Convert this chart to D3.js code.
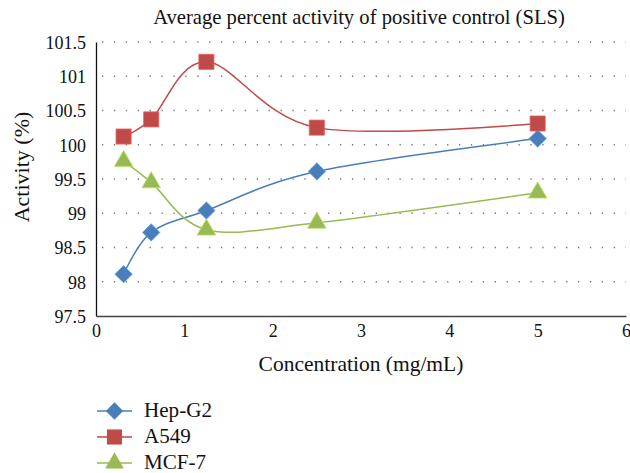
<!DOCTYPE html>
<html><head><meta charset="utf-8">
<script src="https://cdn.jsdelivr.net/npm/d3@7"></script>
<style>body{margin:0;background:#fff}svg{display:block}text{font-family:"Liberation Serif","Times New Roman",Times,Tinos,"Noto Serif","DejaVu Serif",FreeSerif,serif !important;fill:#111}</style>
</head><body>
<svg id="c" width="630" height="473"></svg>
<script>
const concentrations = [0.3125, 0.625, 1.25, 2.5, 5];
const hepG2 = [98.11, 98.72, 99.04, 99.61, 100.09];
const a549 = [100.12, 100.37, 101.21, 100.25, 100.31];
const mcf7 = [99.76, 99.45, 98.76, 98.86, 99.30];
const seriesNames = ["Hep-G2", "A549", "MCF-7"];
const xTicks = [0, 1, 2, 3, 4, 5, 6];
const yTicks = [97.5, 98, 98.5, 99, 99.5, 100, 100.5, 101, 101.5];

const series = [
  {name: seriesNames[0], values: hepG2, color: "#4a7ebb", shape: d3.symbolDiamond2, size: 190},
  {name: seriesNames[1], values: a549, color: "#be4b48", shape: d3.symbolSquare2, size: 290},
  {name: seriesNames[2], values: mcf7, color: "#98b954", shape: d3.symbolTriangle2, size: 250}
];

const svg = d3.select("#c");
const L = 96, R = 626, T = 42, B = 316;
const x = d3.scaleLinear().domain([0, 6]).range([L, R]);
const y = d3.scaleLinear().domain([97.5, 101.5]).range([B, T]);

function fit(sel, refNode, target, base) {
  sel.style("font-size", base + "px");
  const w = refNode.getComputedTextLength();
  const fs = Math.min(base * target / w, 22);
  sel.style("font-size", fs + "px");
  return fs;
}

// gridlines
svg.append("g").selectAll("line").data(yTicks.filter(v => v > 97.5)).join("line")
  .attr("x1", L + 6).attr("x2", R).attr("y1", d => y(d)).attr("y2", d => y(d))
  .attr("stroke", "#777").attr("stroke-width", 1.3).attr("stroke-dasharray", "1.3,10.6");

// axes
const yAxis = d3.axisLeft(y).tickValues(yTicks).tickSize(0).tickPadding(10).tickFormat(d => d3.format("")(d));
const gy = svg.append("g").attr("transform", `translate(${L},0)`).call(yAxis);
gy.select(".domain").attr("stroke", "#111").attr("stroke-width", 1.3);
const ytx = gy.selectAll("text").attr("dy", "0.35em").style("font-size", "18px");

const xAxis = d3.axisBottom(x).tickValues(xTicks).tickSize(0).tickPadding(8).tickFormat(d3.format("d"));
const gx = svg.append("g").attr("transform", `translate(0,${B})`).call(xAxis);
gx.select(".domain").attr("stroke", "#444").attr("stroke-width", 1.5);
gx.selectAll("text").style("font-size", "18px");

// title and axis labels
const title = svg.append("text").attr("x", 359).attr("y", 24).attr("text-anchor", "middle")
  .text("Average percent activity of positive control (SLS)");
fit(title, title.node(), 412, 18);
const xl = svg.append("text").attr("x", 361).attr("y", 371).attr("text-anchor", "middle")
  .text("Concentration (mg/mL)");
fit(xl, xl.node(), 205, 18);
const yl = svg.append("text").attr("transform", `translate(29,${(T + B) / 2 - 12}) rotate(-90)`).attr("text-anchor", "middle")
  .text("Activity (%)");
fit(yl, yl.node(), 125, 18);

// lines
const line = d3.line().curve(d3.curveCardinal.tension(0)).x((d, i) => x(concentrations[i])).y(d => y(d));
series.forEach(s => {
  svg.append("path").attr("d", line(s.values)).attr("fill", "none").attr("stroke", s.color).attr("stroke-width", 1.5);
});
series.forEach(s => {
  svg.append("g").selectAll("path").data(s.values).join("path")
    .attr("transform", (d, i) => `translate(${x(concentrations[i])},${y(d)})`)
    .attr("d", d3.symbol().type(s.shape).size(s.size)).attr("fill", s.color)
    .attr("stroke", d3.color(s.color).brighter(0.6)).attr("stroke-width", 0.8);
});

// legend
const lg = svg.append("g");
let legendFs = null;
series.forEach((s, i) => {
  const yy = 411 + i * 26;
  lg.append("line").attr("x1", 97).attr("x2", 132).attr("y1", yy).attr("y2", yy).attr("stroke", s.color).attr("stroke-width", 1.5);
  lg.append("path").attr("transform", `translate(114.5,${yy})`).attr("d", d3.symbol().type(s.shape).size(s.size)).attr("fill", s.color);
  const t = lg.append("text").attr("x", 144).attr("y", yy + 6).text(s.name);
  if (i === 0) legendFs = fit(t, t.node(), 68, 18);
  else t.style("font-size", legendFs + "px");
});
</script>
</body></html>
